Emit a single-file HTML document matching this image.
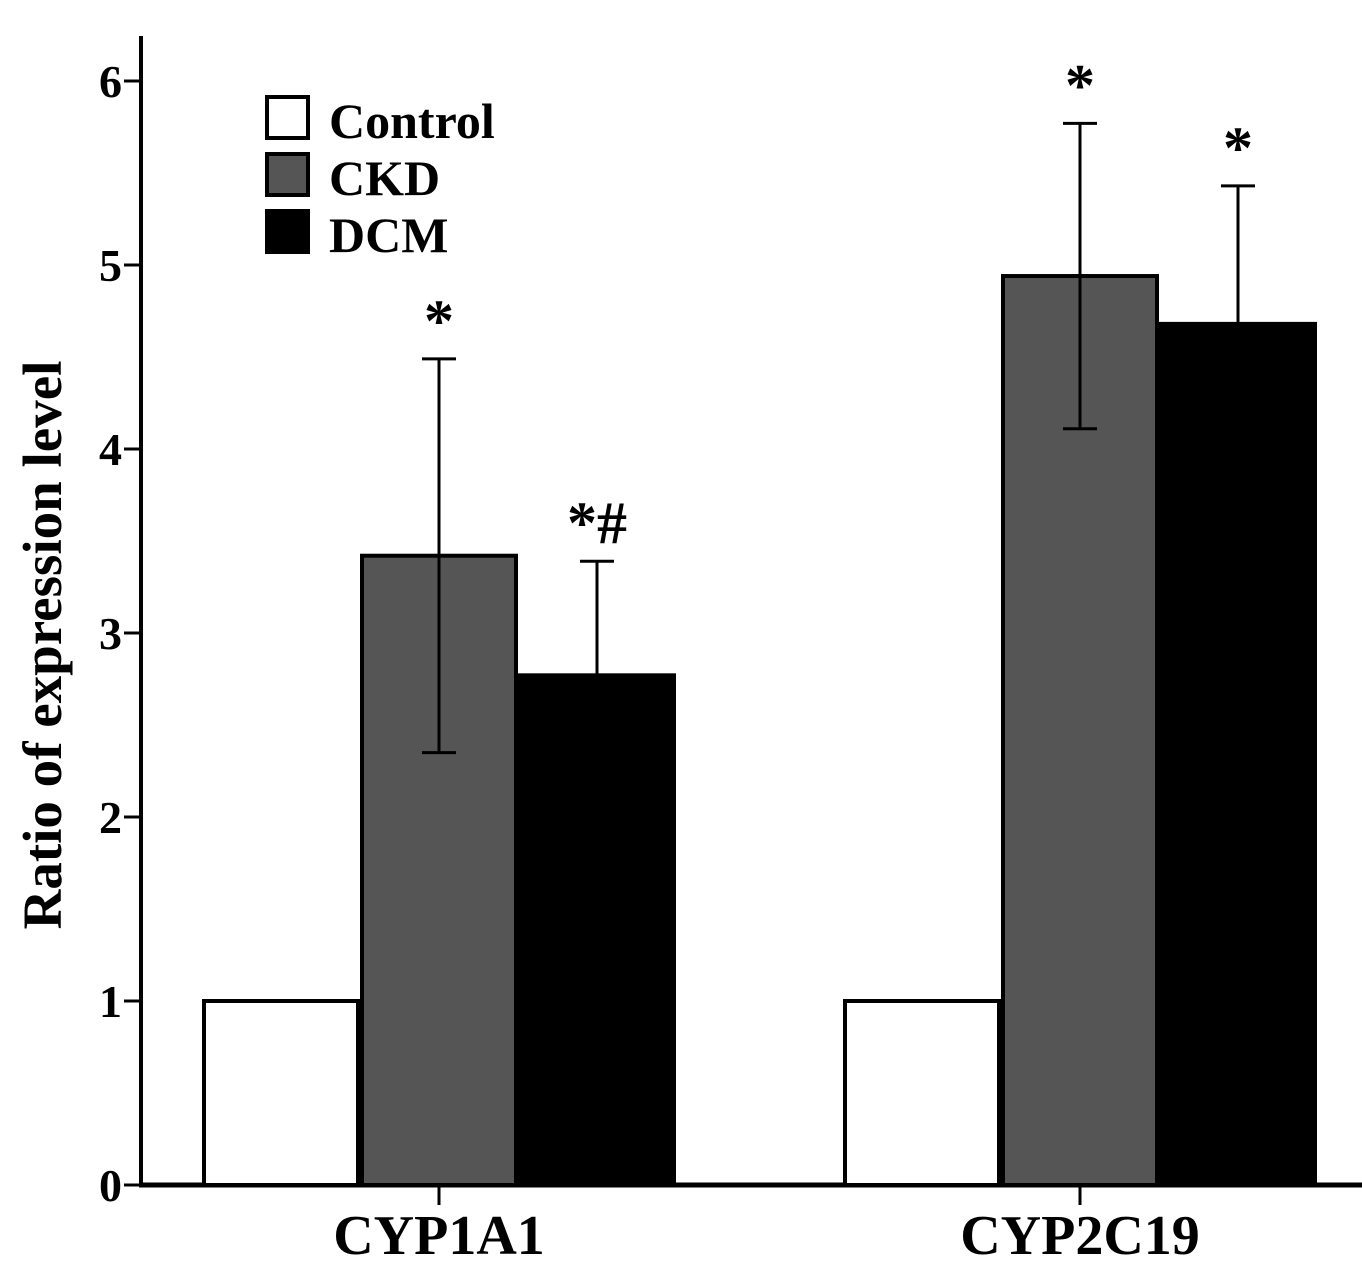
<!DOCTYPE html>
<html><head><meta charset="utf-8"><style>
body{margin:0;background:#fff;}
svg{display:block;font-family:"Liberation Serif",serif;font-weight:bold;}
</style></head><body>
<svg width="1362" height="1273" viewBox="0 0 1362 1273" id="chart">
<text transform="translate(61,645) rotate(-90)" text-anchor="middle" font-size="55">Ratio of expression level</text>
<g id="axes"></g>
<g id="bars"></g>
<g>
<rect x="267" y="97" width="41" height="41" fill="#fff" stroke="#000" stroke-width="4"/>
<text x="329" y="138" font-size="50">Control</text>
<rect x="267" y="154" width="41" height="41" fill="#555" stroke="#000" stroke-width="4"/>
<text x="329" y="195" font-size="50">CKD</text>
<rect x="267" y="211" width="41" height="41" fill="#000" stroke="#000" stroke-width="4"/>
<text x="329" y="252" font-size="50">DCM</text>
</g>
</svg>
<script>
const categories = ["CYP1A1", "CYP2C19"];
const seriesNames = ["Control", "CKD", "DCM"];
const controlValues = [1, 1];
const ckdValues = [3.42, 4.94];
const dcmValues = [2.77, 4.68];
const ckdErrors = [1.07, 0.83];
const dcmErrors = [0.62, 0.75];
const ckdMarks = ["*", "*"];
const dcmMarks = ["*#", "*"];
const yTicks = [0, 1, 2, 3, 4, 5, 6];

const NS = "http://www.w3.org/2000/svg";
const x0 = 141, y0 = 1185, pxPerUnit = 184;
const y = v => y0 - v * pxPerUnit;
const groupCenters = [439, 1080];
const barW = 158;
const axes = document.getElementById('axes');
const bars = document.getElementById('bars');
function mk(tag, attrs, parent) {
  const e = document.createElementNS(NS, tag);
  for (const k in attrs) e.setAttribute(k, attrs[k]);
  parent.appendChild(e);
  return e;
}
const series = [controlValues, ckdValues, dcmValues];
const fills = ["#fff", "#555", "#000"];
const errs = [null, ckdErrors, dcmErrors];
const marks = [null, ckdMarks, dcmMarks];
categories.forEach((c, ci) => {
  series.forEach((vals, si) => {
    const left = groupCenters[ci] + (si - 1.5) * barW + 2;
    const r = mk('rect', {x: left, y: y(vals[ci]), width: barW - 4, height: y0 - y(vals[ci]), fill: fills[si], stroke: "#000", "stroke-width": 4}, bars);
    
    
    if (errs[si]) {
      const cx = left + (barW - 4) / 2;
      const top = vals[ci] + errs[si][ci], bot = vals[ci] - errs[si][ci];
      const g = mk('g', {stroke: "#000", "stroke-width": 3}, bars);
      
      
      mk('line', {x1: cx, x2: cx, y1: y(top), y2: y(bot)}, g);
      mk('line', {x1: cx - 17, x2: cx + 17, y1: y(top), y2: y(top)}, g);
      mk('line', {x1: cx - 17, x2: cx + 17, y1: y(bot), y2: y(bot)}, g);
      const t = mk('text', {x: cx, y: y(top) - 18, "text-anchor": "middle", "font-size": 60}, bars);
      
      
      t.textContent = marks[si][ci];
    }
  });
});
const ya = mk('line', {x1: x0, x2: x0, y1: 36, y2: y0 + 2, stroke: "#000", "stroke-width": 4}, axes);


const xa = mk('line', {x1: x0 - 2, x2: 1362, y1: y0, y2: y0, stroke: "#000", "stroke-width": 5}, axes);


yTicks.forEach(v => {
  mk('line', {x1: x0 - 17, x2: x0, y1: y(v), y2: y(v), stroke: "#000", "stroke-width": 3}, axes);
  const t = mk('text', {x: 122, y: y(v) + 16, "text-anchor": "end", "font-size": 46}, axes);
  
  
  t.textContent = v;
});
categories.forEach((c, ci) => {
  mk('line', {x1: groupCenters[ci], x2: groupCenters[ci], y1: y0, y2: y0 + 20, stroke: "#000", "stroke-width": 3}, axes);
  const t = mk('text', {x: groupCenters[ci], y: 1254, "text-anchor": "middle", "font-size": 56}, axes);
  
  
  t.textContent = c;
});
</script>
</body></html>
